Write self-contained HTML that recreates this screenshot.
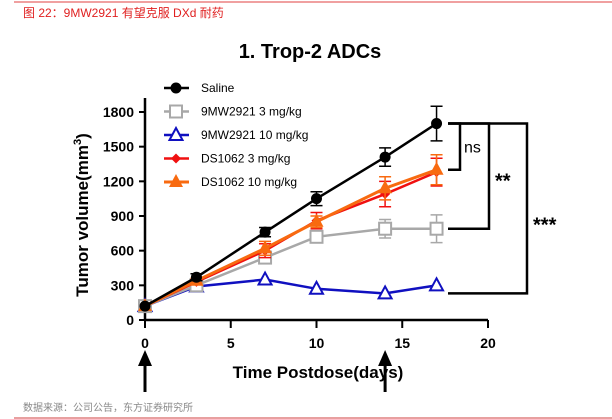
<!DOCTYPE html>
<html><head><meta charset="utf-8"><style>
html,body{margin:0;padding:0;background:#fff;width:612px;height:419px;overflow:hidden}
svg{display:block;font-family:"Liberation Sans","Noto Sans CJK SC",sans-serif}
</style></head><body>
<svg id="chart" width="612" height="419">
<line x1="14" y1="2" x2="612" y2="2" stroke="#e04040" stroke-width="1"/>
<text x="23" y="17" font-size="12" fill="#e02020">图 22：9MW2921 有望克服 DXd 耐药</text>
<text x="310" y="58" font-size="20" font-weight="bold" text-anchor="middle">1. Trop-2 ADCs</text>
<text x="23" y="411" font-size="10" fill="#888">数据来源：公司公告，东方证券研究所</text>
<line x1="14" y1="418" x2="612" y2="418" stroke="#e08080" stroke-width="1.5"/>
<g id="plot"></g>
</svg>
<script>
const days = [0, 3, 7, 10, 14, 17];
const seriesNames = ["Saline", "9MW2921 3 mg/kg", "9MW2921 10 mg/kg", "DS1062 3 mg/kg", "DS1062 10 mg/kg"];
const saline = [120, 370, 760, 1050, 1410, 1700];
const mw3 = [120, 300, 540, 720, 790, 790];
const mw10 = [120, 290, 350, 270, 230, 300];
const ds3 = [120, 330, 600, 860, 1090, 1280];
const ds10 = [120, 340, 620, 850, 1140, 1300];
const salineErr = [0, 30, 40, 60, 80, 150];
const mw3Err = [0, 20, 40, 40, 80, 120];
const ds3Err = [0, 20, 60, 70, 110, 120];
const ds10Err = [0, 20, 60, 50, 100, 130];
const yTicks = [0, 300, 600, 900, 1200, 1500, 1800];
const xTicks = [0, 5, 10, 15, 20];

const NS = "http://www.w3.org/2000/svg";
const g = document.getElementById("plot");
const X = d => 145 + d * (488 - 145) / 20;
const Y = v => 320 - v * (320 - 112) / 1800;
function mk(tag, attrs, parent) {
  const e = document.createElementNS(NS, tag);
  for (const k in attrs) e.setAttribute(k, attrs[k]);
  (parent || g).appendChild(e);
  return e;
}
let e = mk("line", {x1: 145, y1: 320, x2: 488, y2: 320, stroke: "#000", "stroke-width": 2.5});


e = mk("line", {x1: 145, y1: 320, x2: 145, y2: 98, stroke: "#000", "stroke-width": 2.5});


yTicks.forEach(v => {
  let t = mk("line", {x1: 139, y1: Y(v), x2: 145, y2: Y(v), stroke: "#000", "stroke-width": 2});
  
  
  let l = mk("text", {x: 134, y: Y(v) + 5, "font-size": 14, "font-weight": "bold", "text-anchor": "end"});
  l.textContent = v;
  
  
});
xTicks.forEach(v => {
  let t = mk("line", {x1: X(v), y1: 320, x2: X(v), y2: 328, stroke: "#000", "stroke-width": 2});
  
  
  let l = mk("text", {x: X(v), y: 348, "font-size": 14, "font-weight": "bold", "text-anchor": "middle"});
  l.textContent = v;
  
  
});
let xt = mk("text", {x: 318, y: 378, "font-size": 17, "font-weight": "bold", "text-anchor": "middle"});
xt.textContent = "Time Postdose(days)";


let yt = mk("text", {x: 0, y: 0, "font-size": 17, "font-weight": "bold", "text-anchor": "middle", transform: "translate(88,215) rotate(-90)"});
yt.innerHTML = 'Tumor volume(mm<tspan font-size="11" dy="-7">3</tspan><tspan dy="7">)</tspan>';


[0, 14].forEach(d => {
  let a = mk("line", {x1: X(d), y1: 392, x2: X(d), y2: 362, stroke: "#000", "stroke-width": 3});
  
  
  let h = mk("polygon", {points: `${X(d)-7},366 ${X(d)+7},366 ${X(d)},350`, fill: "#000"});
  
  
});
function marker(type, x, y, color, parent) {
  let m;
  if (type === "circle") m = mk("circle", {cx: x, cy: y, r: 5.5, fill: color}, parent);
  else if (type === "square") m = mk("rect", {x: x - 6, y: y - 6, width: 12, height: 12, fill: "#fff", stroke: color, "stroke-width": 2}, parent);
  else if (type === "otri") m = mk("polygon", {points: `${x-6.5},${y+5} ${x+6.5},${y+5} ${x},${y-7}`, fill: "#fff", stroke: color, "stroke-width": 2}, parent);
  else if (type === "diamond") m = mk("polygon", {points: `${x-5},${y} ${x},${y-5} ${x+5},${y} ${x},${y+5}`, fill: color}, parent);
  else m = mk("polygon", {points: `${x-7},${y+5} ${x+7},${y+5} ${x},${y-8}`, fill: color}, parent);
  return m;
}
const series = [
  {vals: mw10, err: null, color: "#1010c0", m: "otri", w: 2.5},
  {vals: mw3, err: mw3Err, color: "#a8a8a8", m: "square", w: 2.5},
  {vals: ds3, err: ds3Err, color: "#f01010", m: "diamond", w: 2.5},
  {vals: ds10, err: ds10Err, color: "#f86a10", m: "tri", w: 3},
  {vals: saline, err: salineErr, color: "#000", m: "circle", w: 2.5}
];
const names = ["series-9mw2921-10", "series-9mw2921-3", "series-ds1062-3", "series-ds1062-10", "series-saline"];
series.forEach((s, i) => {
  const sg = mk("g", {});
  
  
  if (s.err) s.vals.forEach((v, j) => {
    if (!s.err[j]) return;
    const x = X(days[j]);
    const b = mk("path", {d: `M${x},${Y(v - s.err[j])}V${Y(v + s.err[j])}M${x-6},${Y(v + s.err[j])}H${x+6}M${x-6},${Y(v - s.err[j])}H${x+6}`, stroke: s.color, "stroke-width": 1.5, fill: "none"}, sg);
    
    
  });
  const p = mk("polyline", {points: s.vals.map((v, j) => X(days[j]) + "," + Y(v)).join(" "), fill: "none", stroke: s.color, "stroke-width": s.w}, sg);
  
  
  s.vals.forEach((v, j) => {
    const m = marker(s.m, X(days[j]), Y(v), s.color, sg);
    
    
  });
});
const legOrder = [4, 1, 0, 2, 3];
legOrder.forEach((si, i) => {
  const s = series[si];
  const y = 88 + i * 23.5;
  const lg = mk("g", {});
  
  
  mk("line", {x1: 164, y1: y, x2: 189, y2: y, stroke: s.color, "stroke-width": s.w}, lg);
  marker(s.m, 176, y, s.color, lg);
  const t = mk("text", {x: 201, y: y + 4, "font-size": 12}, lg);
  t.textContent = seriesNames[i];
});
function bracket(x1, x2, yTop, yBot, label, lx, ly, name) {
  const bg = mk("g", {});
  
  
  mk("path", {d: `M${x1},${yTop}H${x2}V${yBot}H${x1}`, fill: "none", stroke: "#000", "stroke-width": 2.5}, bg);
  const t = mk("text", {x: lx, y: ly, "font-size": label === "ns" ? 16 : 20, "font-weight": label === "ns" ? "normal" : "bold"}, bg);
  t.textContent = label;
}
bracket(448, 460, Y(1700), Y(1300), "ns", 464, Y(1500) + 6, "bracket-ns");
bracket(448, 489, Y(1700), Y(790), "**", 495, Y(1250) + 12, "bracket-2star");
bracket(448, 527, Y(1700), Y(230), "***", 533, Y(870) + 12, "bracket-3star");
</script>
</body></html>
